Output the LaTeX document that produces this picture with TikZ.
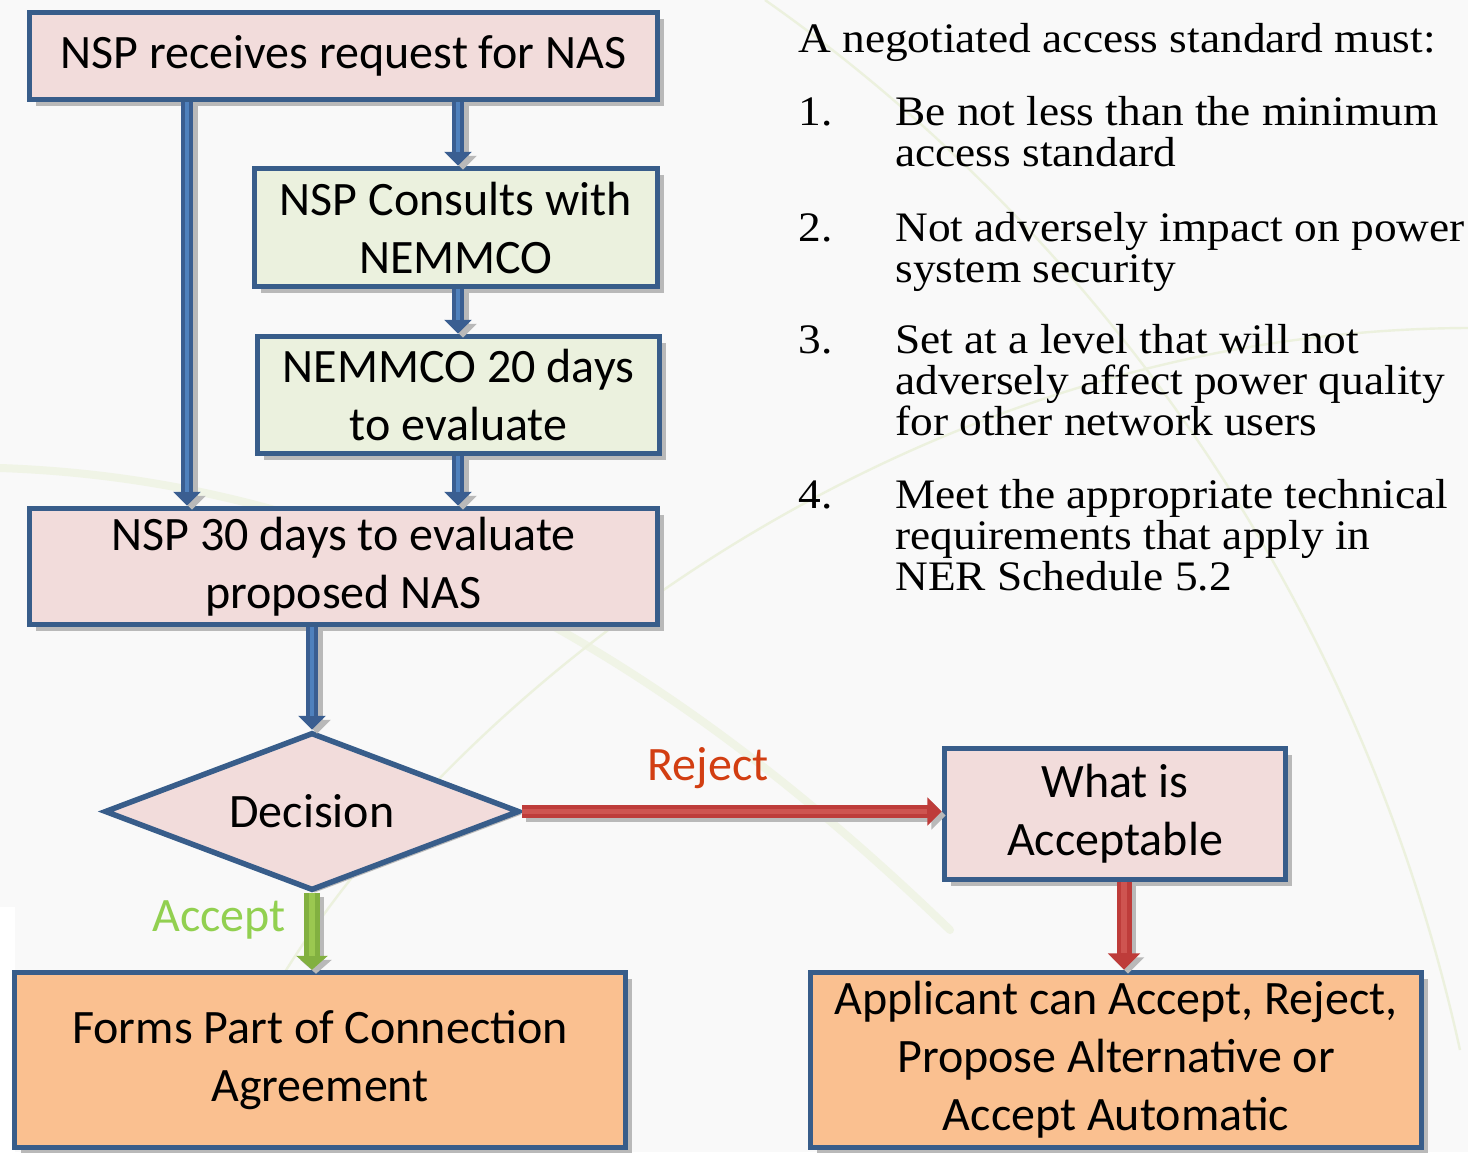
\documentclass[tikz,border=0pt]{standalone}
\usepackage{fontspec}
\setmainfont{Carlito}
\newfontfamily\rserif[FakeStretch=1.08]{Liberation Serif}
\usetikzlibrary{arrows.meta,shapes.geometric,shadows,calc}
\definecolor{bgc}{RGB}{249,249,249}
\definecolor{curvec}{RGB}{236,241,222}
\definecolor{curveb}{RGB}{240,244,230}
\definecolor{pinkf}{RGB}{242,220,219}
\definecolor{greenf}{RGB}{235,241,222}
\definecolor{orangef}{RGB}{250,192,144}
\definecolor{borderc}{RGB}{56,93,138}
\definecolor{arrblue}{RGB}{58,94,145}
\definecolor{arrlight}{RGB}{79,129,189}
\definecolor{arrred}{RGB}{190,60,58}
\definecolor{arrredl}{RGB}{206,84,80}
\definecolor{arrgreen}{RGB}{130,176,64}
\definecolor{arrgreenl}{RGB}{155,200,80}
\definecolor{rejectc}{RGB}{210,62,18}
\definecolor{acceptc}{RGB}{146,208,80}
\tikzset{
  box/.style={draw=borderc, line width=2.75pt, rectangle, inner sep=0pt, align=center,
    font=\fontsize{24}{29}\selectfont,
    drop shadow={shadow xshift=3pt, shadow yshift=-3pt, fill=gray!55, opacity=1}},
  decbox/.style={draw=borderc, line width=2.75pt, diamond, aspect=2.6, inner sep=0pt, fill=pinkf,
    font=\fontsize{24}{29}\selectfont,
    drop shadow={shadow xshift=1.5pt, shadow yshift=-1.5pt, fill=gray!55, opacity=1}},
  bluearr/.style={draw=arrblue, line width=6pt, -{Triangle[width=13.5pt,length=7pt]},
    preaction={draw=gray!55, line width=6pt, -{Triangle[width=13.5pt,length=7pt]}, transform canvas={shift={(2.5pt,-2pt)}}},
    postaction={draw=arrlight, line width=2pt, -, shorten >=7pt}},
  redarr/.style={draw=arrred, line width=#1, -{Triangle[width=2.1*#1,length=1.1*#1]},
    preaction={draw=gray!55, line width=#1, -{Triangle[width=2.1*#1,length=1.1*#1]}, transform canvas={shift={(2pt,-2pt)}}},
    postaction={draw=arrredl, line width=0.35*#1, -, shorten >=1.1*#1}},
  greenarr/.style={draw=arrgreen, line width=8pt, -{Triangle[width=15.5pt,length=7pt]},
    preaction={draw=gray!55, line width=8pt, -{Triangle[width=15.5pt,length=7pt]}, transform canvas={shift={(2pt,-2pt)}}},
    postaction={draw=arrgreenl, line width=3pt, -, shorten >=7pt}},
  rt/.style={anchor=base west, inner sep=0pt, font=\rserif\fontsize{21}{21}\selectfont},
  lbl/.style={inner sep=0pt, font=\fontsize{24}{29}\selectfont}
}
\begin{document}
\begin{tikzpicture}[x=0.5pt,y=-0.5pt]
\useasboundingbox (0,0) rectangle (1468,1152);
\fill[bgc] (0,0) rectangle (1468,1152);
\fill[white] (0,907) rectangle (15,1152);
% faint decorative curves
\draw[curveb, line width=4pt, line cap=round] (0,468) .. controls (350,480) and (650,640) .. (950,930);
\draw[curvec, line width=1.2pt] (280,980) .. controls (450,700) and (900,330) .. (1468,328);
\draw[curvec, line width=1.2pt] (765,0) .. controls (1050,200) and (1350,550) .. (1460,1050);
% named x positions for vertical connectors
\coordinate (xl) at (187,0);
\coordinate (xr) at (458,0);
\coordinate (xe) at (1124,0);
% boxes
\node[box, fill=pinkf, minimum width=314pt, minimum height=43.5pt] (A) at (343.5,56) {NSP receives request for NAS};
\node[box, fill=greenf, minimum width=201.5pt, minimum height=59pt] (B) at (456,227.5) {NSP Consults with\\NEMMCO};
\node[box, fill=greenf, minimum width=201pt, minimum height=58.5pt] (C) at (458.5,395) {NEMMCO 20 days\\to evaluate};
\node[box, fill=pinkf, minimum width=314pt, minimum height=58pt] (D) at (343.5,566.5) {NSP 30 days to evaluate\\proposed NAS};
\node[decbox, minimum width=207.5pt, minimum height=79pt] (Dec) at (312,811.5) {Decision};
\node[box, fill=pinkf, minimum width=170.5pt, minimum height=65.5pt] (E) at (1115,814) {What is\\Acceptable};
\node[box, fill=orangef, minimum width=305.5pt, minimum height=87.5pt] (F) at (320,1060) {Forms Part of Connection\\Agreement};
\node[box, fill=orangef, minimum width=305.5pt, minimum height=87.5pt] (G) at (1116,1060) {Applicant can Accept, Reject,\\Propose Alternative or\\Accept Automatic};
% connectors
\draw[bluearr] (A.south -| xl) -- (D.north -| xl);
\draw[bluearr] (A.south -| xr) -- (B.north -| xr);
\draw[bluearr] (B.south -| xr) -- (C.north -| xr);
\draw[bluearr] (C.south -| xr) -- (D.north -| xr);
\draw[bluearr] (D.south -| Dec.north) -- (Dec.north);
\draw[redarr=6.5pt] (Dec.east) -- (Dec.east -| E.west);
\draw[redarr=7.5pt] (E.south -| xe) -- (G.north -| xe);
\draw[greenarr] (Dec.south) -- (Dec.south |- F.north);
% labels
\node[lbl, text=rejectc] (rej) at (708,768) {Reject};
\node[lbl, text=acceptc] (acc) at (219,920) {Accept};
% right-hand text
\node[rt] (h) at (798,52) {A negotiated access standard must:};
\node[rt] (n1) at (798,125) {1.};
\node[rt] (t1a) at (895,125) {Be not less than the minimum};
\node[rt] (t1b) at (895,166) {access standard};
\node[rt] (n2) at (798,241) {2.};
\node[rt] (t2a) at (895,241) {Not adversely impact on power};
\node[rt] (t2b) at (895,282) {system security};
\node[rt] (n3) at (798,353) {3.};
\node[rt] (t3a) at (895,353) {Set at a level that will not};
\node[rt] (t3b) at (895,394) {adversely affect power quality};
\node[rt] (t3c) at (895,435) {for other network users};
\node[rt] (n4) at (798,508) {4.};
\node[rt] (t4a) at (895,508) {Meet the appropriate technical};
\node[rt] (t4b) at (895,549) {requirements that apply in};
\node[rt] (t4c) at (895,590) {NER Schedule 5.2};
\end{tikzpicture}
\end{document}
